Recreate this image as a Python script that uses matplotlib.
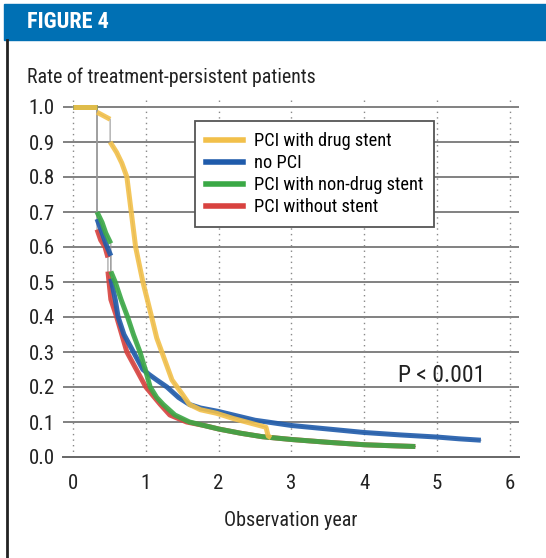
import matplotlib
matplotlib.use("Agg")
import matplotlib.pyplot as plt
from matplotlib.patches import Rectangle
from matplotlib.lines import Line2D

plt.rcParams['font.family'] = ['Roboto Condensed', 'Liberation Sans', 'DejaVu Sans']

# survival data (time in years, rate)
drug_t = [0, 0.33, 0.33, 0.51, 0.51, 0.6, 0.67, 0.74, 0.80, 0.86, 0.96, 1.02, 1.08, 1.15,
          1.22, 1.29, 1.36, 1.43, 1.5, 1.6, 1.75, 1.97, 2.2, 2.45, 2.65, 2.68, 2.72]
drug_s = [1.0, 1.0, 0.985, 0.965, 0.90, 0.87, 0.84, 0.80, 0.70, 0.60, 0.50, 0.45, 0.40, 0.34,
          0.30, 0.26, 0.22, 0.20, 0.18, 0.15, 0.135, 0.125, 0.11, 0.096, 0.085, 0.06, 0.055]

nopci_t = [0, 0.33, 0.33, 0.40, 0.45, 0.52, 0.52, 0.58, 0.62, 0.70, 0.83, 0.96, 1.05, 1.15,
           1.29, 1.45, 1.6, 1.75, 2.0, 2.2, 2.5, 2.67, 3.0, 3.5, 4.0, 4.5, 5.0, 5.3, 5.6]
nopci_s = [1.0, 1.0, 0.68, 0.64, 0.61, 0.575, 0.51, 0.45, 0.40, 0.35, 0.30, 0.25, 0.235, 0.22,
           0.20, 0.17, 0.15, 0.14, 0.13, 0.12, 0.105, 0.10, 0.09, 0.08, 0.07, 0.063, 0.057, 0.052, 0.048]

bms_t = [0, 0.33, 0.33, 0.40, 0.45, 0.52, 0.52, 0.58, 0.66, 0.75, 0.83, 0.92, 1.0, 1.06, 1.15,
         1.24, 1.4, 1.6, 1.8, 2.0, 2.3, 2.6, 3.0, 3.5, 4.0, 4.4, 4.7]
bms_s = [1.0, 1.0, 0.70, 0.67, 0.64, 0.61, 0.53, 0.50, 0.45, 0.40, 0.35, 0.30, 0.245, 0.20, 0.17,
         0.15, 0.12, 0.10, 0.09, 0.08, 0.068, 0.058, 0.05, 0.042, 0.035, 0.032, 0.03]

nostent_t = [0, 0.33, 0.33, 0.38, 0.44, 0.48, 0.48, 0.52, 0.6, 0.67, 0.74, 0.87, 1.0, 1.1, 1.2,
             1.33, 1.56, 1.8, 2.0, 2.3, 2.6, 3.0, 3.5, 4.0, 4.4, 4.7]
nostent_s = [1.0, 1.0, 0.65, 0.62, 0.60, 0.57, 0.53, 0.45, 0.40, 0.35, 0.30, 0.25, 0.20, 0.175, 0.15,
             0.12, 0.10, 0.09, 0.08, 0.068, 0.058, 0.05, 0.042, 0.035, 0.032, 0.03]

xticks = [0, 1, 2, 3, 4, 5, 6]
yticks = [0.0, 0.1, 0.2, 0.3, 0.4, 0.5, 0.6, 0.7, 0.8, 0.9, 1.0]

series = [
    ("PCI without stent", nostent_t, nostent_s, "#d8423f"),
    ("no PCI", nopci_t, nopci_s, "#1f5bab"),
    ("PCI with non-drug stent", bms_t, bms_s, "#3aa845"),
    ("PCI with drug stent", drug_t, drug_s, "#f2c04a"),
]
legend_order = ["PCI with drug stent", "no PCI", "PCI with non-drug stent", "PCI without stent"]

fig = plt.figure(figsize=(5.46, 5.58), dpi=100)
ax = fig.add_axes([63 / 546, 1 - 457 / 558, (519 - 63) / 546, (457 - 98.25) / 558])

# header band and left rule
fig.patches.append(Rectangle((4 / 546, 1 - 40 / 558), 1, 36 / 558, transform=fig.transFigure,
                             color="#0070b4", zorder=0))
fig.text(27 / 546, 1 - 22 / 558, "FIGURE 4", color="white", fontsize=16, fontweight="bold",
         va="center", ha="left")
fig.add_artist(Line2D([6.5 / 546, 6.5 / 546], [0, 1 - 40 / 558], transform=fig.transFigure,
                      color="#222222", lw=2))

ax.set_xlim(-0.137, 6.124)
ax.set_ylim(0, 1.025)
for sp in ["top", "right", "left"]:
    ax.spines[sp].set_visible(False)
ax.spines["bottom"].set_color("#666666")
ax.spines["bottom"].set_linewidth(1.4)

for y in yticks[1:]:
    ax.axhline(y, color="#777777", lw=1.3, zorder=1)
for x in xticks:
    ax.axvline(x, color="#888888", lw=1.0, ls=(0, (1, 3)), zorder=1)

handles = {}
for name, t, s, c in series:
    ax.plot(t, s, color="#999999", lw=0.8, zorder=2)
    start = 0
    for i in range(1, len(t) + 1):
        if i == len(t) or t[i] == t[i - 1]:
            ax.plot(t[start:i], s[start:i], color=c, lw=3.6, alpha=0.9,
                    solid_capstyle="butt", zorder=3)
            start = i
    handles[name] = Line2D([], [], color=c, lw=4)

ax.set_xticks(xticks)
ax.set_xticklabels([str(x) for x in xticks])
ax.set_yticks(yticks)
ax.set_yticklabels([f"{y:.1f}" for y in yticks])
ax.tick_params(length=0, labelsize=15, colors="#222222")
ax.tick_params(axis="x", pad=12)
ax.tick_params(axis="y", pad=6)

ax.set_xlabel("Observation year", fontsize=14.5, color="#222222", labelpad=13)
fig.text(27 / 546, 1 - 77 / 558, "Rate of treatment-persistent patients", fontsize=14.3,
         color="#222222", va="center", ha="left")

ax.text(4.46, 0.234, "P < 0.001", fontsize=17, color="#222222", va="center", ha="left")

leg = ax.legend([handles[n] for n in legend_order], legend_order, loc="upper left",
                bbox_to_anchor=(195 / 546, 1 - 121 / 558), bbox_transform=fig.transFigure,
                borderaxespad=0, fancybox=False, framealpha=1, edgecolor="#555555",
                fontsize=13.2, handlelength=2.0, handletextpad=0.6, labelspacing=0.22,
                borderpad=0.6)
leg.get_frame().set_linewidth(1.3)
leg.set_zorder(5)

fig.savefig("out.png", dpi=100)
